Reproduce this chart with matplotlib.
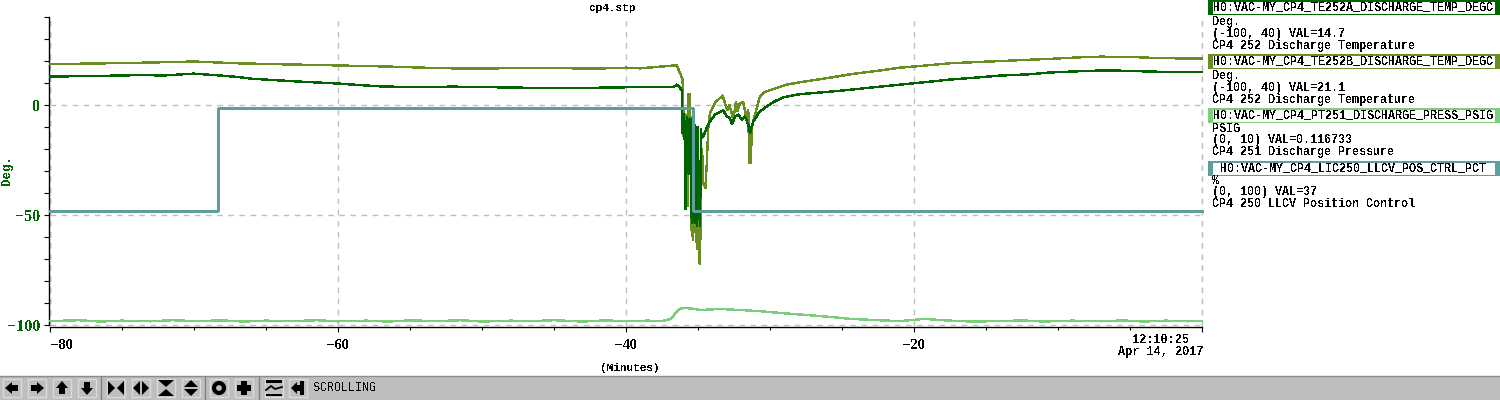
import matplotlib
matplotlib.use("Agg")
import matplotlib.pyplot as plt
from matplotlib.patches import Rectangle, Polygon, Circle
from matplotlib.ticker import MultipleLocator, FixedLocator

plt.rcParams['text.antialiased'] = False

# Time in minutes, values in plotted (Deg.) scale
a_t = [-80, -77, -74, -72, -70, -68.5, -67, -66, -64.5, -63, -61.5, -60, -58.5, -57, -55, -52, -50, -47, -45, -42, -40, -37.5, -36.71, -36.48, -36.3, -36.13,
       -36.07, -35.96, -35.93, -35.88, -35.86, -35.81, -35.77, -35.70, -35.65, -35.58, -35.53, -35.49, -35.40, -35.33,
       -35.21, -35.16, -35.12, -35.07, -35.03, -34.98, -34.93, -34.86, -34.79, -34.75,
       -34.63, -34.40, -34.17, -33.82, -33.24, -33.01, -32.78, -32.64, -32.43, -32.2, -31.97, -31.74, -31.51,
       -31.39, -31.16, -30.7, -29.77, -29.07, -27.92, -26, -24.44, -22.5, -20.97, -19, -17.5, -15.5, -14.03, -12, -10.56, -8.5, -7.08, -5, -3.6, -1.5, 0]
a_v = [13, 13.2, 13.6, 13.5, 14.3, 13.6, 12.8, 12, 11.4, 10.8, 10.3, 9.8, 9.1, 8.5, 8.2, 8.4, 8.2, 7.9, 7.7, 7.9, 8.1, 8.1, 8.1, 9.3, 8.5, 6.6,
       -12.7, -3.6, -14.2, -26.3, -47.5, -24.8, -5.1, -30.9, -5.9, -31.6, -5.9, -47.5, -53.6, -50.6,
       -8.9, -53.6, -9.6, -55.1, -9.6, -52.1, -33.1, -55.1, -10.4, -15,
       -14.2, -10.4, -7.4, -4.3, -2.4, -5.1, -5.9, -8.9, -5.1, -4.3, -6.6, -5.1, -8.9,
       -12.7, -7.4, -2.8, 1.4, 3.6, 5.0, 6.0, 7.0, 8.3, 9.3, 10.6, 11.6, 12.6, 13.4, 14.0, 14.8, 15.4, 15.7, 15.6, 15.2, 15.1, 15]

b_t = [-80, -77, -74, -70, -68.5, -67, -65, -63, -61, -60, -57, -54, -52, -50, -47, -45, -42, -40, -39.03, -36.48, -36.25, -36.07,
       -36.02, -36.02, -35.97, -35.86, -35.90, -35.79, -35.72, -35.70, -35.65, -35.60, -35.56, -35.51, -35.47, -35.44, -35.33, -35.26, -35.21, -35.12,
       -35.05, -34.98, -34.91, -34.86, -34.82, -34.72, -34.63, -34.49, -34.40, -34.28, -34.17, -33.82, -33.29, -33.06, -32.96,
       -32.83, -32.66, -32.55, -32.36, -32.27, -32.08, -31.85, -31.67, -31.51, -31.44, -31.34, -31.25, -31.04,
       -30.70, -30.35, -29.77, -28.84, -27.92, -26, -24.44, -22.5, -20.97, -19, -17.5, -15.5, -14.03, -12, -10.56, -8.5, -7.08, -5, -3.6, -1.5, 0]
b_v = [18.6, 18.9, 19.2, 19.8, 19.4, 19.0, 18.7, 18.4, 18.2, 18.0, 17.6, 17.0, 16.7, 16.6, 16.9, 16.8, 16.6, 17.0, 16.7, 18.1, 14.6, 11.6,
       -2.1, -14.2, -4.3, -4.3, -24.8, -46, -20, -46, 5.5, -27.8, 5.5, -27.8, -5, -56.6, -61.2, -9.6, -50.6, -60,
       -65.7, -40, -71.8, -71.8, -50.6, -19.5, -35.4, -37.7, -27.8, -9.6, -3.6, 1.0, 4.4, -0.6, -2.1,
       0.2, -3.6, -6.6, 1.7, -2.8, 1.0, 1.3, -5.1, -2.1, -26.3, -26.3, -9.6, -4.3,
       4.0, 6.0, 7.3, 9.3, 10.4, 12.3, 14, 15.6, 17, 18.1, 19, 19.6, 20, 20.6, 21, 21.7, 22, 21.9, 21.5, 21.2, 21.1]

p_t = [-80, -78, -76.5, -75, -73, -71.5, -70, -68, -66.5, -65, -63, -61.5, -60, -58, -56.5, -55, -53, -51.5, -50, -48, -46.5, -45, -43, -41.5, -40,
       -38.5, -37.5, -36.9, -36.3, -35.9, -35.2, -34.9, -33.5, -32, -30.7, -29.3, -27.9, -26, -24.4, -22.5, -21, -19.3, -17.5, -16, -14, -12.5, -11, -9, -7, -5.5, -4, -2.5, -1, 0]
p_v = [-98, -97.6, -98.2, -97.8, -98.1, -97.6, -98, -97.7, -98.2, -97.8, -98, -97.6, -98.1, -97.8, -98.2, -97.7, -98, -97.6, -98.2, -97.8, -98, -97.6, -98.2, -97.7, -98,
       -97.8, -98, -97, -92.5, -92, -92.5, -93, -92.5, -93, -93.5, -94.3, -95, -96, -97, -97.6, -98, -97, -97.8, -98.2, -98, -97.7, -98.2, -97.8, -98.1, -97.7, -98.2, -97.8, -98.1, -98]

c_t = [-80, -68.33, -68.33, -35.32, -35.32, 0]
c_v = [-48, -48, -1.1, -1.1, -48, -48]

y_major = [0, -50, -100]
x_major = [-80, -60, -40, -20, 0]
x_labels = ["\u221280", "\u221260", "\u221240", "\u221220", ""]

legend_rows = [
    ("H0:VAC-MY_CP4_TE252A_DISCHARGE_TEMP_DEGC", "Deg.", "(-100, 40) VAL=14.7", "CP4 252 Discharge Temperature", "#006400"),
    ("H0:VAC-MY_CP4_TE252B_DISCHARGE_TEMP_DEGC", "Deg.", "(-100, 40) VAL=21.1", "CP4 252 Discharge Temperature", "#6B8E23"),
    ("H0:VAC-MY_CP4_PT251_DISCHARGE_PRESS_PSIG", "PSIG", "(0, 10) VAL=0.116733", "CP4 251 Discharge Pressure", "#7CCD7C"),
    ("H0:VAC-MY_CP4_LIC250_LLCV_POS_CTRL_PCT", "%", "(0, 100) VAL=37", "CP4 250 LLCV Position Control", "#5F9EA0"),
]

MONO = "Liberation Mono"
SERIF = "Liberation Serif"

fig = plt.figure(figsize=(15, 4), dpi=100, facecolor="white")
ax = fig.add_axes([50 / 1500, (400 - 325.5) / 400, 1152 / 1500, 308.5 / 400])
ax.set_xlim(-80, 0)
ax.set_ylim(-100, 40)
for t, v, col, lw in [(b_t, b_v, "#6B8E23", 1.0), (a_t, a_v, "#006400", 1.0),
                      (p_t, p_v, "#7CCD7C", 1.0), (c_t, c_v, "#5F9EA0", 1.0)]:
    ax.plot(t, v, color=col, lw=lw, solid_joinstyle="miter", clip_on=False, zorder=3, antialiased=False)

for s in ("top", "right"):
    ax.spines[s].set_visible(False)
ax.spines["left"].set_position(("outward", 0.7))
ax.spines["bottom"].set_position(("outward", 1.1))
for s in ("left", "bottom"):
    ax.spines[s].set_linewidth(1.0)
ax.xaxis.set_major_locator(FixedLocator(x_major))
ax.set_xticklabels(x_labels)
ax.xaxis.set_minor_locator(MultipleLocator(5))
ax.yaxis.set_major_locator(FixedLocator(y_major))
ax.yaxis.set_minor_locator(MultipleLocator(10))
ax.grid(True, which="major", color="#BEBEBE", ls=(0, (4, 4)), lw=1.0, zorder=1)
ax.axvline(-80, color="#BEBEBE", ls=(0, (4, 4)), lw=1.0, zorder=1)
ax.axvline(0, color="#BEBEBE", ls=(0, (4, 4)), lw=1.0, zorder=1, clip_on=False)
ax.tick_params(axis="y", which="both", length=3.5, width=0.8, colors="black", labelcolor="#006400", pad=3)
ax.tick_params(axis="x", which="major", length=3.5, width=0.8, pad=5)
ax.tick_params(axis="x", which="minor", length=2.2, width=0.8)
for lab in ax.get_yticklabels():
    lab.set_fontfamily(SERIF); lab.set_fontweight("bold"); lab.set_fontsize(11.5)
for lab in ax.get_xticklabels():
    lab.set_fontfamily(SERIF); lab.set_fontweight("bold"); lab.set_fontsize(10.5)
ax.get_xticklabels()[0].set_ha("left")

ov = fig.add_axes([0, 0, 1, 1], facecolor="none")
ov.set_xlim(0, 1500)
ov.set_ylim(400, 0)
ov.axis("off")

def mono(x, y, s, ha="left", size=8, weight="bold", color="black", **kw):
    ov.text(x, y, s, family=MONO, fontsize=size, fontweight=weight, color=color, ha=ha, va="center", **kw)

mono(613, 8, "cp4.stp", ha="center")
mono(630, 368, "(Minutes)", ha="center")
mono(1161, 340, "12:10:25", ha="center", size=8.6)
mono(1161, 352.5, "Apr 14, 2017", ha="center", size=8.6)
ov.text(7, 170, "Deg.", family=MONO, fontsize=9, fontweight="bold", color="#006400",
        rotation=90, ha="center", va="center")

row_tops = [0, 54, 108, 161]
row_offsets = [(22, 33.7, 46), (22, 33.7, 46), (20.5, 32.5, 44.5), (20.5, 31, 43.2)]
for top, offs, (name, unit, rng, desc, col) in zip(row_tops, row_offsets, legend_rows):
    ov.add_patch(Rectangle((1208, top), 292, 15, fc=col, ec="none"))
    ov.add_patch(Rectangle((1212.5, top + 1.5), 282, 12, fc="white", ec="none"))
    mono(1353, top + 7.5, name, ha="center", size=8.5)
    mono(1212.5, top + offs[0], unit, size=8.5)
    mono(1212.5, top + offs[1], rng, size=8.5)
    mono(1212.5, top + offs[2], desc, size=8.5)

# toolbar
ov.add_patch(Rectangle((0, 376), 1500, 24, fc="#BEBEBE", ec="none"))
ov.plot([0, 1500], [376, 376], color="#8C8C8C", lw=1)
cy = 388
centers = [12, 37, 62, 87, 116, 141, 166, 191, 219, 244, 274, 298]
for cx in centers:
    ov.add_patch(Rectangle((cx - 9, cy - 9), 18, 18, fc="#BEBEBE", ec="#DADADA", lw=1))
for sx in (101, 205, 259):
    ov.plot([sx, sx], [377, 400], color="#808080", lw=1)

def poly(pts):
    ov.add_patch(Polygon(pts, closed=True, fc="black", ec="none"))

def arrow_h(cx, d):
    poly([(cx + d * 7, cy), (cx + d * 0, cy - 6), (cx + d * 0, cy - 3), (cx - d * 6, cy - 3),
          (cx - d * 6, cy + 3), (cx + d * 0, cy + 3), (cx + d * 0, cy + 6)])

def arrow_v(cx, d):
    poly([(cx, cy + d * 7), (cx - 6, cy), (cx - 3, cy), (cx - 3, cy - d * 6),
          (cx + 3, cy - d * 6), (cx + 3, cy), (cx + 6, cy)])

arrow_h(12, -1); arrow_h(37, 1); arrow_v(62, -1); arrow_v(87, 1)
poly([(108, 381), (115, 388), (108, 395)]); poly([(124, 381), (117, 388), (124, 395)])
poly([(140, 381), (133, 388), (140, 395)]); poly([(142, 381), (149, 388), (142, 395)])
poly([(158, 380), (174, 380), (166, 387)]); poly([(158, 396), (174, 396), (166, 389)])
poly([(191, 380), (184, 387), (198, 387)]); poly([(191, 396), (184, 389), (198, 389)])
ov.add_patch(Circle((219, 388), 5, fc="none", ec="black", lw=3))
poly([(241, 381), (247, 381), (247, 385), (251, 385), (251, 391), (247, 391), (247, 395),
      (241, 395), (241, 391), (237, 391), (237, 385), (241, 385)])
ov.add_patch(Rectangle((266, 380), 16, 2.5, fc="black", ec="none"))
ov.add_patch(Rectangle((266, 393.5), 16, 2.5, fc="black", ec="none"))
ov.plot([266, 271, 275, 282], [390, 386, 389, 387], color="black", lw=1.3)
poly([(291, 388), (297, 382), (297, 385), (300, 385), (300, 381), (304, 381), (304, 395),
      (300, 395), (300, 391), (297, 391), (297, 394)])
mono(313, 388, "SCROLLING", size=8.5, weight="normal")

fig.savefig("out.png", dpi=100)
